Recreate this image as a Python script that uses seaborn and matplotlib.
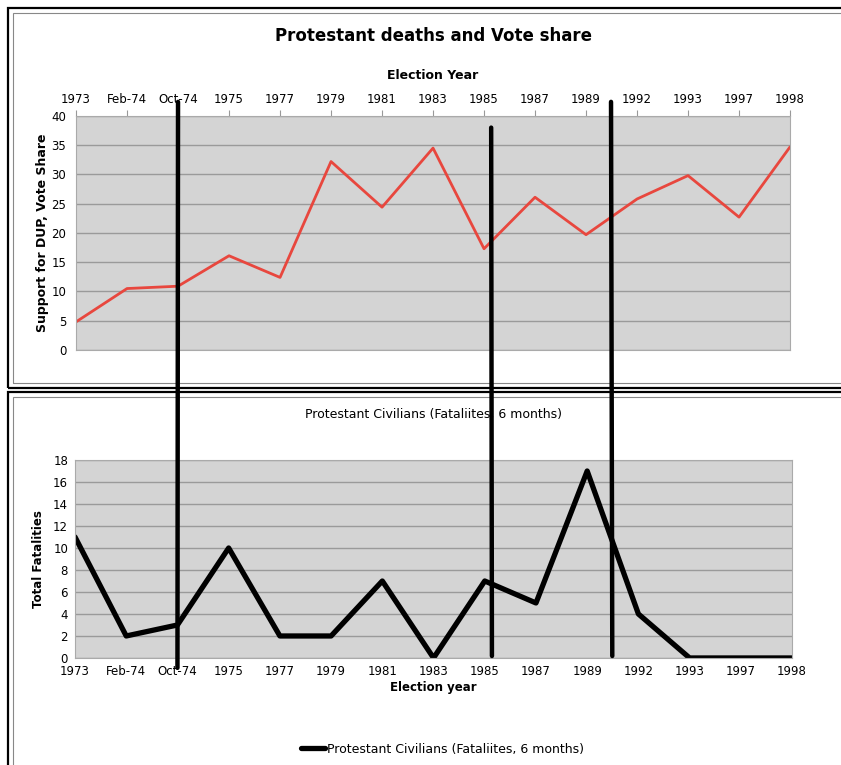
import numpy as np
import seaborn as sns
import matplotlib.pyplot as plt
from matplotlib.patches import Rectangle, ConnectionPatch

# election labels shared by both panels
elections = ["1973", "Feb-74", "Oct-74", "1975", "1977", "1979", "1981", "1983",
             "1985", "1987", "1989", "1992", "1993", "1997", "1998"]
# DUP vote share (%)
dup_share = [4.8, 10.5, 10.9, 16.1, 12.4, 32.2, 24.4, 34.5,
             17.3, 26.1, 19.7, 25.8, 29.8, 22.7, 34.7]
# protestant civilian fatalities in the 6 months before each election
fatalities = [11, 2, 3, 10, 2, 2, 7, 0, 7, 5, 17, 4, 0, 0, 0]
# marked events, in election-index units
event_x = [2.0, 8.14, 10.49]

sns.set_style("white")
plt.rcParams['font.family'] = ['DejaVu Sans']
plt.rcParams['text.color'] = 'black'
plt.rcParams['axes.labelcolor'] = 'black'

fig = plt.figure(figsize=(8.41, 7.65), dpi=100)
pos = np.arange(len(elections))

# panel frames (double borders)
for (y0, h) in [(0.493, 0.497), (-0.02, 0.508)]:
    fig.add_artist(Rectangle((0.009, y0), 1.2, h, transform=fig.transFigure,
                             fill=False, lw=1.6, ec="black"))
    fig.add_artist(Rectangle((0.015, y0 + 0.007), 1.2, h - 0.014, transform=fig.transFigure,
                             fill=False, lw=0.8, ec="#888888"))

grid_kw = dict(color="#9a9a9a", lw=1)

# ---- top panel: vote share
ax1 = fig.add_axes([0.0904, 0.5425, 0.849, 0.306])
ax1.set_facecolor("#d4d4d4")
sns.lineplot(x=pos, y=dup_share, ax=ax1, color="#e8473e", lw=2)
ax1.set_xlim(0, len(elections) - 1)
ax1.set_ylim(0, 40)
ax1.set_yticks(np.arange(0, 41, 5))
ax1.yaxis.grid(True, **grid_kw)
ax1.set_axisbelow(True)
ax1.set_xticks(pos)
ax1.set_xticklabels(elections)
ax1.xaxis.tick_top()
ax1.xaxis.set_label_position("top")
ax1.set_xlabel("Election Year", fontsize=9, fontweight="bold", labelpad=10)
ax1.set_ylabel("Support for DUP, Vote Share", fontsize=9, fontweight="bold", labelpad=2)
ax1.tick_params(axis="both", labelsize=8.5, length=4, color="#999999", pad=3,
                labelcolor="black")
ax1.tick_params(axis="x", top=True, bottom=False)
for s in ax1.spines.values():
    s.set_color("#aaaaaa")
fig.text(0.515, 0.953, "Protestant deaths and Vote share", ha="center", va="center",
         fontsize=12, fontweight="bold")

# ---- bottom panel: fatalities
ax2 = fig.add_axes([0.0892, 0.1399, 0.8526, 0.2588])
ax2.set_facecolor("#d4d4d4")
sns.lineplot(x=pos, y=fatalities, ax=ax2, color="black", lw=3.8,
             label="Protestant Civilians (Fataliites, 6 months)")
ax2.set_xlim(0, len(elections) - 1)
ax2.set_ylim(0, 18)
ax2.set_yticks(np.arange(0, 19, 2))
ax2.yaxis.grid(True, **grid_kw)
ax2.set_axisbelow(True)
ax2.set_xticks(pos)
ax2.set_xticklabels(elections)
ax2.set_xlabel("Election year", fontsize=8.5, fontweight="bold", labelpad=2)
ax2.set_ylabel("Total Fatalities", fontsize=8.5, fontweight="bold", labelpad=6)
ax2.tick_params(axis="both", labelsize=8.5, length=3, color="#999999", pad=2,
                labelcolor="black")
ax2.set_title("Protestant Civilians (Fataliites, 6 months)", fontsize=9, pad=30)
for s in ax2.spines.values():
    s.set_color("#aaaaaa")
ax2.legend(loc="center", bbox_to_anchor=(0.513, -0.46), frameon=False, fontsize=9,
           handlelength=1.9, handletextpad=0.2)

# event lines crossing both panels
tops = [1.06, 0.95, 1.06]
bottoms = [-0.05, 0.01, 0.01]
for x, t, b in zip(event_x, tops, bottoms):
    con = ConnectionPatch(xyA=(x, t), coordsA=ax1.get_xaxis_transform(),
                          xyB=(x, b), coordsB=ax2.get_xaxis_transform(),
                          color="black", lw=3.2)
    fig.add_artist(con)

fig.savefig("out.png", dpi=100)
